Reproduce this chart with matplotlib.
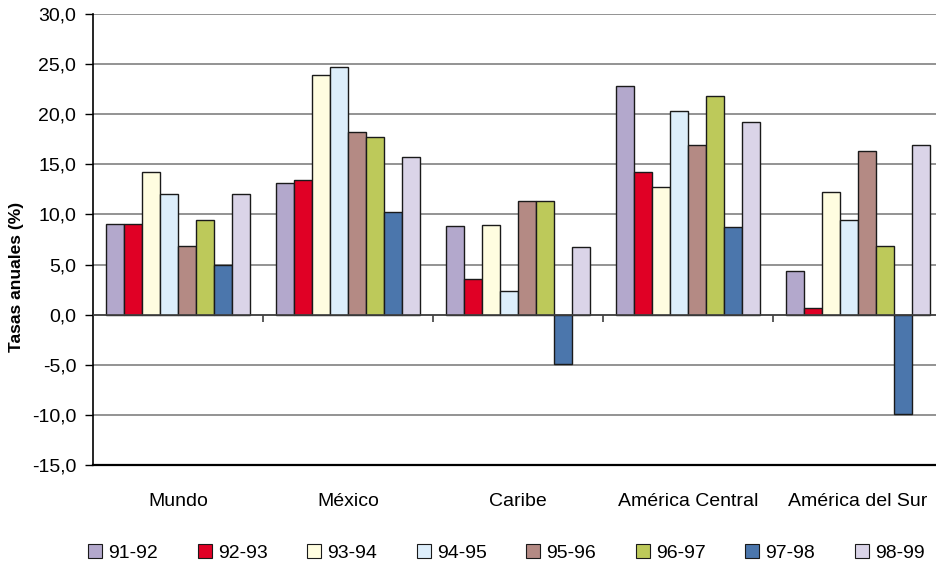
import numpy as np
import matplotlib.pyplot as plt
from matplotlib.patches import Patch

plt.rcParams.update({
    "font.family": ["Liberation Sans", "DejaVu Sans"],
    "font.size": 14,
})

regiones = ["Mundo", "México", "Caribe", "América Central", "América del Sur"]
periodos = ["91-92", "92-93", "93-94", "94-95", "95-96", "96-97", "97-98", "98-99"]

# tasas anuales (%) por periodo, una lista por region
mundo = [9.0, 9.0, 14.2, 12.0, 6.9, 9.4, 5.0, 12.0]
mexico = [13.1, 13.4, 23.9, 24.7, 18.2, 17.7, 10.2, 15.7]
caribe = [8.8, 3.6, 8.9, 2.4, 11.3, 11.3, -4.9, 6.8]
america_central = [22.8, 14.2, 12.7, 20.3, 16.9, 21.8, 8.7, 19.2]
america_sur = [4.4, 0.7, 12.2, 9.4, 16.3, 6.9, -9.9, 16.9]

colores = ["#B3A8CC", "#E00025", "#FFFDE0", "#DDEEFB",
           "#B48A84", "#BDC95A", "#4B76AC", "#DAD4E8"]

datos = np.array([mundo, mexico, caribe, america_central, america_sur])

fig = plt.figure(figsize=(9.36, 5.64), dpi=100)
ax = fig.add_axes([93 / 936, 99 / 564, 850 / 936, 451 / 564])

n = len(periodos)
ancho = 18 / 170
centros = np.arange(len(regiones)) + 0.5
for i in range(n):
    x = centros + (i - (n - 1) / 2) * ancho
    ax.bar(x, datos[:, i], width=ancho, color=colores[i],
           edgecolor="#1a1a1a", linewidth=1.0, zorder=3)

ax.set_xlim(0, len(regiones))
ax.set_ylim(-15, 30)
ax.set_yticks(np.arange(-15, 31, 5))
ax.set_yticklabels([f"{v:.1f}".replace(".", ",") for v in np.arange(-15, 31, 5)])
ax.yaxis.grid(True, color="#808080", linewidth=1.2, zorder=0)
ax.tick_params(axis="y", length=6, width=1, pad=6)

ax.set_xticks(centros)
ax.set_xticklabels(regiones)
ax.tick_params(axis="x", length=0, pad=20)

for s in ["top", "right"]:
    ax.spines[s].set_visible(False)
ax.spines["left"].set_linewidth(1.2)
ax.spines["bottom"].set_linewidth(1.6)

# eje en cero con marcas de separacion entre regiones
ax.axhline(0, color="#404040", linewidth=1.2, zorder=4)
ax.vlines(np.arange(1, len(regiones)), -0.7, 0, color="#404040", linewidth=1.2, zorder=4)

ax.set_ylabel("Tasas anuales (%)", fontsize=12.5, fontweight="bold")
ax.yaxis.set_label_coords(-0.081, 0.417)

handles = [Patch(facecolor=c, edgecolor="#1a1a1a", linewidth=0.8) for c in colores]
fig.legend(handles, periodos, loc="center", bbox_to_anchor=(0.541, 0.019), ncol=n,
           frameon=False, handlelength=0.72, handleheight=0.72, handletextpad=0.3,
           columnspacing=2.05, fontsize=14, borderpad=0)

fig.savefig("out.png", dpi=100)
